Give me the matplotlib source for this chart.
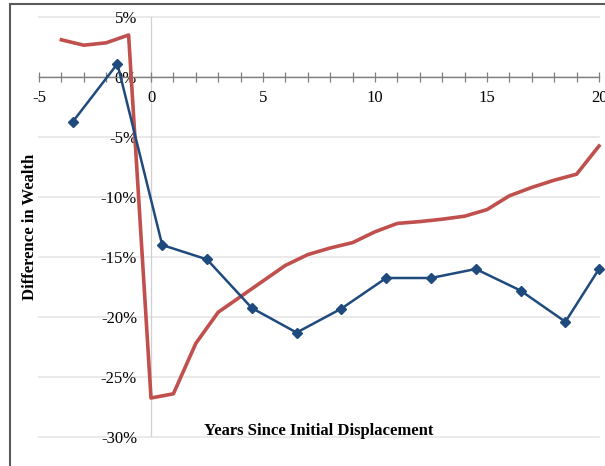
import matplotlib.pyplot as plt
from matplotlib.ticker import MultipleLocator, FuncFormatter
from matplotlib.patches import Rectangle

plt.rcParams['font.family'] = ['Liberation Serif', 'DejaVu Serif']
plt.rcParams['axes.unicode_minus'] = False

# wealth gap for displaced workers, by years since displacement
blue_years = [-3.5, -1.5, 0.5, 2.5, 4.5, 6.5, 8.5, 10.5, 12.5, 14.5, 16.5, 18.5, 20]
blue_diff = [-3.75, 1.1, -14.0, -15.2, -19.25, -21.3, -19.3, -16.75, -16.75, -16.0, -17.8, -20.4, -16.0]

red_years = [-4, -3, -2, -1, 0, 1, 2, 3, 4, 5, 6, 7, 8, 9, 10, 11, 12, 13, 14, 15, 16, 17, 18, 19, 20]
red_diff = [3.1, 2.65, 2.85, 3.5, -26.75, -26.4, -22.2, -19.6, -18.3, -17.0, -15.7, -14.8, -14.25,
            -13.8, -12.9, -12.2, -12.05, -11.85, -11.6, -11.05, -9.9, -9.2, -8.6, -8.1, -5.75]

fig = plt.figure(figsize=(6.05, 4.66), dpi=100)
W, H = 605, 466
ax = fig.add_axes([39 / W, 1 - 437 / H, (599 - 39) / W, (437 - 17) / H])

# chart border (cut off on the right and bottom)
fig.patches.append(Rectangle((10 / W, -0.05), 1.2, 1 - 4 / H + 0.05, transform=fig.transFigure,
                             fill=False, edgecolor='#5a5a5a', linewidth=1.5, zorder=0))

ax.set_xlim(-5, 20)
ax.set_ylim(-30, 5)

for v in range(-30, 6, 5):
    ax.axhline(v, color='#e6e6e6', linewidth=1.2, zorder=0, clip_on=False)
ax.axvline(0, color='#d0d0d0', linewidth=0.9, zorder=0)

ax.plot(red_years, red_diff, color='#C0504D', linewidth=2.6, zorder=3, clip_on=False)
ax.plot(blue_years, blue_diff, color='#1F4A7E', linewidth=1.8, marker='D', markersize=5.5,
        zorder=4, clip_on=False)

for s in ['top', 'right']:
    ax.spines[s].set_visible(False)
ax.spines['left'].set_position(('data', 0))
ax.spines['left'].set_visible(False)
ax.spines['bottom'].set_position(('data', 0))
ax.spines['bottom'].set_color('#808080')
ax.spines['bottom'].set_linewidth(1.0)

ax.xaxis.set_major_locator(MultipleLocator(5))
ax.xaxis.set_minor_locator(MultipleLocator(1))
ax.tick_params(axis='x', which='both', direction='inout', length=7, width=0.9, color='#808080',
               labelsize=12, pad=6)
ax.yaxis.set_major_locator(MultipleLocator(5))
ax.yaxis.set_major_formatter(FuncFormatter(lambda v, p: f'{v:.0f}%'))
ax.tick_params(axis='y', length=0, labelsize=12, pad=10)

ax.text(0.5, -0.005, 'Years Since Initial Displacement', transform=ax.transAxes,
        ha='center', va='bottom', fontsize=12, fontweight='bold')
fig.text(30 / W, 1 - 227 / H, 'Difference in Wealth', rotation=90, ha='center', va='center',
         fontsize=12, fontweight='bold')

fig.savefig('out.png', dpi=100, facecolor='white')
